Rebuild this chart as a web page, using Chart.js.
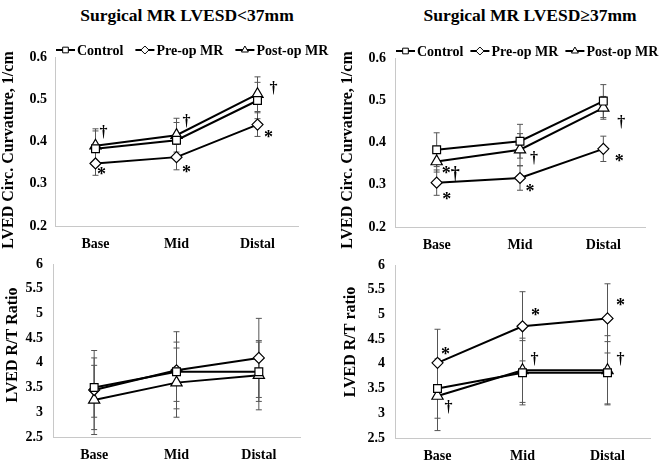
<!DOCTYPE html>
<html>
<head>
<meta charset="utf-8">
<script src="https://cdn.jsdelivr.net/npm/chart.js@4.4.1/dist/chart.umd.min.js"></script>
<style>
  body { margin: 0; background: #fff; }
  #wrap { position: relative; width: 670px; height: 465px; overflow: hidden; }
  .box { position: absolute; }
  .ttl { position: absolute; font: bold 17.5px "Liberation Serif", "Times New Roman", serif; white-space: nowrap; transform: translateX(-50%); }
</style>
</head>
<body>
<div id="wrap">
  <div class="ttl" style="left:187px; top:5px;">Surgical MR LVESD&lt;37mm</div>
  <div class="ttl" style="left:530px; top:5px;">Surgical MR LVESD≥37mm</div>
  <div class="box" style="left:0; top:0; width:335px; height:255px;"><canvas id="c1"></canvas></div>
  <div class="box" style="left:335px; top:0; width:335px; height:255px;"><canvas id="c2"></canvas></div>
  <div class="box" style="left:0; top:245px; width:335px; height:220px;"><canvas id="c3"></canvas></div>
  <div class="box" style="left:335px; top:245px; width:335px; height:220px;"><canvas id="c4"></canvas></div>
</div>
<script>
var categories = ['Base', 'Mid', 'Distal'];
var seriesNames = ['Control', 'Pre-op MR', 'Post-op MR'];

// circumferential curvature, LVESD < 37mm
var curvSmallControl = [0.383, 0.403, 0.497];
var curvSmallPre = [0.348, 0.363, 0.440];
var curvSmallPost = [0.390, 0.415, 0.512];
var curvSmallControlSd = [0.042, 0.042, 0.043];
var curvSmallPreSd = [0.028, 0.030, 0.028];
var curvSmallPostSd = [0.040, 0.040, 0.041];

// circumferential curvature, LVESD >= 37mm
var curvLargeControl = [0.383, 0.403, 0.498];
var curvLargePre = [0.305, 0.316, 0.385];
var curvLargePost = [0.355, 0.383, 0.482];
var curvLargeControlSd = [0.040, 0.040, 0.039];
var curvLargePreSd = [0.030, 0.029, 0.030];
var curvLargePostSd = [0.025, 0.038, 0.027];

// R/T ratio, LVESD < 37mm
var rtSmallControl = [3.50, 3.82, 3.82];
var rtSmallPre = [3.45, 3.85, 4.10];
var rtSmallPost = [3.25, 3.60, 3.75];
var rtSmallControlSd = [0.60, 0.60, 0.60];
var rtSmallPreSd = [0.80, 0.78, 0.80];
var rtSmallPostSd = [0.70, 0.70, 0.70];

// R/T ratio, LVESD >= 37mm
var rtLargeControl = [3.50, 3.82, 3.82];
var rtLargePre = [4.02, 4.76, 4.92];
var rtLargePost = [3.35, 3.87, 3.87];
var rtLargeControlSd = [0.60, 0.65, 0.63];
var rtLargePreSd = [0.68, 0.70, 0.70];
var rtLargePostSd = [0.70, 0.65, 0.70];

var serif = '"Liberation Serif", "Times New Roman", serif';
Chart.defaults.font.family = serif;
Chart.defaults.color = '#000';

var styles = ['rect', 'rectRot', 'triangle'];
var radii = [5.5, 5.5, 6.5];

// vertical SD bars with small caps, drawn under the markers
var errorBars = {
    id: 'errorBars',
    beforeDatasetsDraw: function(chart) {
        var ctx = chart.ctx, ys = chart.scales.y;
        ctx.save();
        ctx.strokeStyle = '#555';
        ctx.lineWidth = 1;
        chart.data.datasets.forEach(function(ds, i) {
            var meta = chart.getDatasetMeta(i);
            ds.data.forEach(function(v, j) {
                var x = meta.data[j].x;
                var t = ys.getPixelForValue(v + ds.sd[j]);
                var b = ys.getPixelForValue(v - ds.sd[j]);
                ctx.beginPath();
                ctx.moveTo(x, t); ctx.lineTo(x, b);
                ctx.moveTo(x - 3, t); ctx.lineTo(x + 3, t);
                ctx.moveTo(x - 3, b); ctx.lineTo(x + 3, b);
                ctx.stroke();
            });
        });
        ctx.restore();
    }
};

// significance marks (* and †) next to points
var sigMarks = {
    id: 'sigMarks',
    afterDatasetsDraw: function(chart, args, opts) {
        var ctx = chart.ctx;
        ctx.save();
        ctx.textAlign = 'center';
        ctx.textBaseline = 'middle';
        ctx.fillStyle = '#000';
        (opts.marks || []).forEach(function(m) {
            var p = chart.getDatasetMeta(m.ds).data[m.idx];
            ctx.font = 'bold ' + (m.text === '†' ? 16 : 18) + 'px ' + serif;
            ctx.fillText(m.text, p.x + m.dx, p.y + m.dy);
        });
        ctx.restore();
    }
};

// rotated y-axis title placed like the Excel original
var yTitle = {
    id: 'yTitle',
    afterDraw: function(chart, args, opts) {
        var ctx = chart.ctx;
        ctx.save();
        ctx.translate(opts.x, opts.y);
        ctx.rotate(-Math.PI / 2);
        ctx.font = 'bold 16px ' + serif;
        ctx.textAlign = 'center';
        ctx.textBaseline = 'middle';
        ctx.fillStyle = '#000';
        ctx.fillText(opts.text, 0, 0);
        ctx.restore();
    }
};

// Excel-like legend: line with marker, then label
var lineLegend = {
    id: 'lineLegend',
    afterDraw: function(chart, args, opts) {
        if (!opts.show) return;
        var ctx = chart.ctx;
        var x = chart.chartArea.left + 1, y = chart.chartArea.top - 7;
        ctx.save();
        ctx.font = 'bold 14px ' + serif;
        ctx.textBaseline = 'middle';
        chart.data.datasets.forEach(function(ds, i) {
            ctx.strokeStyle = '#000';
            ctx.lineWidth = 2;
            ctx.beginPath();
            ctx.moveTo(x, y); ctx.lineTo(x + 19, y);
            ctx.stroke();
            ctx.fillStyle = '#fff';
            ctx.lineWidth = 1;
            Chart.helpers.drawPoint(ctx, { pointStyle: styles[i], radius: 4, borderWidth: 1, rotation: 0 }, x + 9.5, y);
            ctx.fillStyle = '#000';
            ctx.fillText(ds.label, x + 21, y + 1);
            x += 21 + ctx.measureText(ds.label).width + opts.gap;
        });
        ctx.restore();
    }
};

function makeChart(id, cfg) {
    var datasets = cfg.series.map(function(vals, i) {
        return {
            label: seriesNames[i],
            data: vals,
            sd: cfg.sd[i],
            borderColor: '#000',
            borderWidth: 2,
            pointStyle: styles[i],
            pointRadius: radii[i],
            pointBackgroundColor: '#fff',
            pointBorderColor: '#000',
            pointBorderWidth: 1.2
        };
    });
    return new Chart(document.getElementById(id), {
        type: 'line',
        data: { labels: categories, datasets: datasets },
        plugins: [errorBars, sigMarks, lineLegend, yTitle],
        options: {
            responsive: true,
            maintainAspectRatio: false,
            animation: false,
            layout: { padding: { left: 0, top: cfg.padTop, right: cfg.padRight, bottom: 0 } },
            plugins: {
                legend: { display: false },
                tooltip: { enabled: false },
                sigMarks: { marks: cfg.marks },
                lineLegend: { show: cfg.legend, gap: cfg.legendGap },
                yTitle: { text: cfg.yTitle, x: cfg.titleX, y: cfg.titleY }
            },
            scales: {
                x: {
                    offset: true,
                    grid: { display: false, drawTicks: false },
                    border: { color: '#c8c8c8', width: 1 },
                    ticks: { font: { size: 14, weight: 'bold' }, padding: 10 },
                    afterFit: function(s) { s.height = cfg.xHeight; }
                },
                y: {
                    min: cfg.min, max: cfg.max,
                    grid: { display: false, drawTicks: false },
                    border: { color: '#c8c8c8', width: 1 },
                    ticks: {
                        stepSize: cfg.step,
                        padding: cfg.tickPad,
                        font: { size: 14, weight: 'bold' },
                        callback: cfg.fmt
                    },
                    afterFit: function(s) { s.width = cfg.yWidth; }
                }
            }
        }
    });
}

var oneDec = function(v) { return v.toFixed(1); };

makeChart('c1', {
    series: [curvSmallControl, curvSmallPre, curvSmallPost],
    sd: [curvSmallControlSd, curvSmallPreSd, curvSmallPostSd],
    min: 0.2, max: 0.6, step: 0.1, fmt: oneDec,
    yTitle: 'LVED Circ. Curvature, 1/cm', titleX: 9, titleY: 150,
    padTop: 57, padRight: 37, yWidth: 55, xHeight: 29, tickPad: 8,
    legend: true, legendGap: 12,
    marks: [
        { ds: 2, idx: 0, text: '†', dx: 8, dy: -13 },
        { ds: 1, idx: 0, text: '*', dx: 6, dy: 12 },
        { ds: 2, idx: 1, text: '†', dx: 10, dy: -13 },
        { ds: 1, idx: 1, text: '*', dx: 10, dy: 16 },
        { ds: 2, idx: 2, text: '†', dx: 16, dy: -5 },
        { ds: 1, idx: 2, text: '*', dx: 11, dy: 14 }
    ]
});

makeChart('c2', {
    series: [curvLargeControl, curvLargePre, curvLargePost],
    sd: [curvLargeControlSd, curvLargePreSd, curvLargePostSd],
    min: 0.2, max: 0.6, step: 0.1, fmt: oneDec,
    yTitle: 'LVED Circ. Curvature, 1/cm', titleX: 13, titleY: 150,
    padTop: 58, padRight: 25, yWidth: 60, xHeight: 28, tickPad: 9,
    legend: true, legendGap: 7,
    marks: [
        { ds: 1, idx: 0, text: '*†', dx: 14, dy: -8 },
        { ds: 1, idx: 0, text: '*', dx: 10, dy: 18 },
        { ds: 2, idx: 1, text: '†', dx: 14, dy: 9 },
        { ds: 1, idx: 1, text: '*', dx: 10, dy: 14 },
        { ds: 2, idx: 2, text: '†', dx: 18, dy: 15 },
        { ds: 1, idx: 2, text: '*', dx: 16, dy: 14 }
    ]
});

makeChart('c3', {
    series: [rtSmallControl, rtSmallPre, rtSmallPost],
    sd: [rtSmallControlSd, rtSmallPreSd, rtSmallPostSd],
    min: 2.5, max: 6, step: 0.5,
    yTitle: 'LVED R/T Ratio', titleX: 13, titleY: 100,
    padTop: 19, padRight: 35, yWidth: 53, xHeight: 28, tickPad: 10,
    legend: false, legendGap: 0,
    marks: []
});

makeChart('c4', {
    series: [rtLargeControl, rtLargePre, rtLargePost],
    sd: [rtLargeControlSd, rtLargePreSd, rtLargePostSd],
    min: 2.5, max: 6, step: 0.5,
    yTitle: 'LVED R/T ratio', titleX: 16, titleY: 97,
    padTop: 20, padRight: 20, yWidth: 60, xHeight: 27, tickPad: 10,
    legend: false, legendGap: 0,
    marks: [
        { ds: 1, idx: 0, text: '*', dx: 8, dy: -8 },
        { ds: 2, idx: 0, text: '†', dx: 11, dy: 12 },
        { ds: 1, idx: 1, text: '*', dx: 13, dy: -10 },
        { ds: 2, idx: 1, text: '†', dx: 12, dy: -10 },
        { ds: 1, idx: 2, text: '*', dx: 13, dy: -12 },
        { ds: 2, idx: 2, text: '†', dx: 13, dy: -10 }
    ]
});
</script>
</body>
</html>
